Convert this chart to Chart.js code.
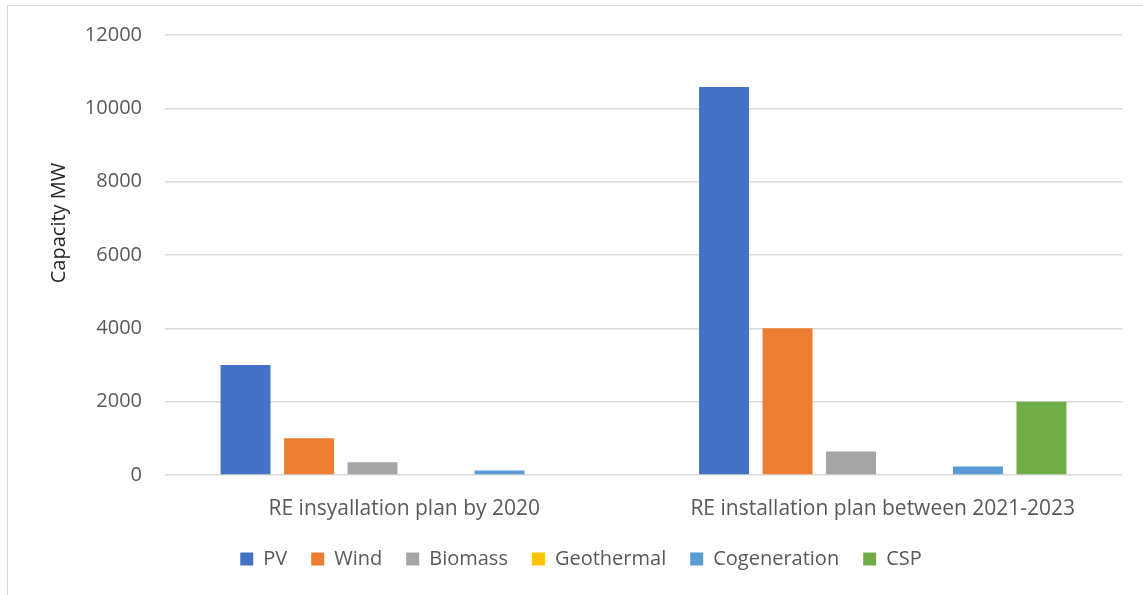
<!DOCTYPE html>
<html>
<head>
<meta charset="utf-8">
<script src="https://cdn.jsdelivr.net/npm/chart.js@4.4.1/dist/chart.umd.min.js"></script>
<style>
  html, body { margin: 0; padding: 0; background: #ffffff; }
  #wrap { position: relative; width: 1143px; height: 595px; overflow: hidden; }
  #frame { position: absolute; left: 7px; top: 5px; right: -5px; bottom: -5px;
           border-left: 1.5px solid #d9d9d9; border-top: 1.5px solid #d9d9d9; pointer-events: none; }
  canvas { position: absolute; left: 0; top: 0; }
</style>
</head>
<body>
<div id="wrap">
  <canvas id="c" width="1143" height="595"></canvas>
  <div id="frame"></div>
</div>
<script>
const categories = ["RE insyallation plan by 2020", "RE installation plan between 2021-2023"];
const seriesNames = ["PV", "Wind", "Biomass", "Geothermal", "Cogeneration", "CSP"];
const pvValues = [3000, 10580];
const windValues = [1000, 4000];
const biomassValues = [350, 640];
const geothermalValues = [0, 0];
const cogenerationValues = [120, 230];
const cspValues = [0, 2000];
const yTicks = [0, 2000, 4000, 6000, 8000, 10000, 12000];
const yAxisTitle = "Capacity MW";

const colors = ["#4472c4", "#ed7d31", "#a5a5a5", "#ffc000", "#5b9bd5", "#70ad47"];
const allValues = [pvValues, windValues, biomassValues, geothermalValues, cogenerationValues, cspValues];

const FONT = "'Open Sans', Lato, sans-serif";
const TXT = "#595959";

const yTitlePlugin = {
  id: "yTitle",
  afterDraw(chart) {
    const ctx = chart.ctx;
    ctx.save();
    ctx.translate(59, 223);
    ctx.rotate(-Math.PI / 2);
    ctx.font = "20px " + FONT;
    ctx.fillStyle = "#262626";
    ctx.textAlign = "center";
    ctx.textBaseline = "middle";
    ctx.fillText(yAxisTitle, 0, 0);
    ctx.restore();
  }
};

new Chart(document.getElementById("c"), {
  type: "bar",
  data: {
    labels: categories,
    datasets: seriesNames.map((n, i) => ({
      label: n,
      data: allValues[i],
      backgroundColor: colors[i],
      borderWidth: 0,
      categoryPercentage: 0.796,
      barPercentage: 0.787
    }))
  },
  options: {
    responsive: false,
    animation: false,
    layout: { padding: { left: 40, right: 21, top: 24, bottom: 16 } },
    plugins: {
      tooltip: { enabled: false },
      legend: {
        position: "bottom",
        labels: {
          font: { family: FONT, size: 20 },
          color: TXT,
          boxWidth: 13,
          boxHeight: 13,
          padding: 24
        }
      }
    },
    scales: {
      x: {
        grid: { display: false },
        border: { display: false },
        afterFit: (s) => { s.height = 50; },
        ticks: { font: { family: FONT, size: 21 }, color: TXT, padding: 13 }
      },
      y: {
        min: 0,
        max: 12000,
        afterBuildTicks: (s) => { s.ticks = yTicks.map(v => ({ value: v })); },
        afterFit: (s) => { s.width = 125; },
        grid: { color: "#d9d9d9", lineWidth: 1.5, drawTicks: false },
        border: { display: false },
        ticks: { font: { family: FONT, size: 20 }, color: TXT, padding: 23, callback: (v) => String(v) }
      }
    }
  },
  plugins: [yTitlePlugin]
});
</script>
</body>
</html>
